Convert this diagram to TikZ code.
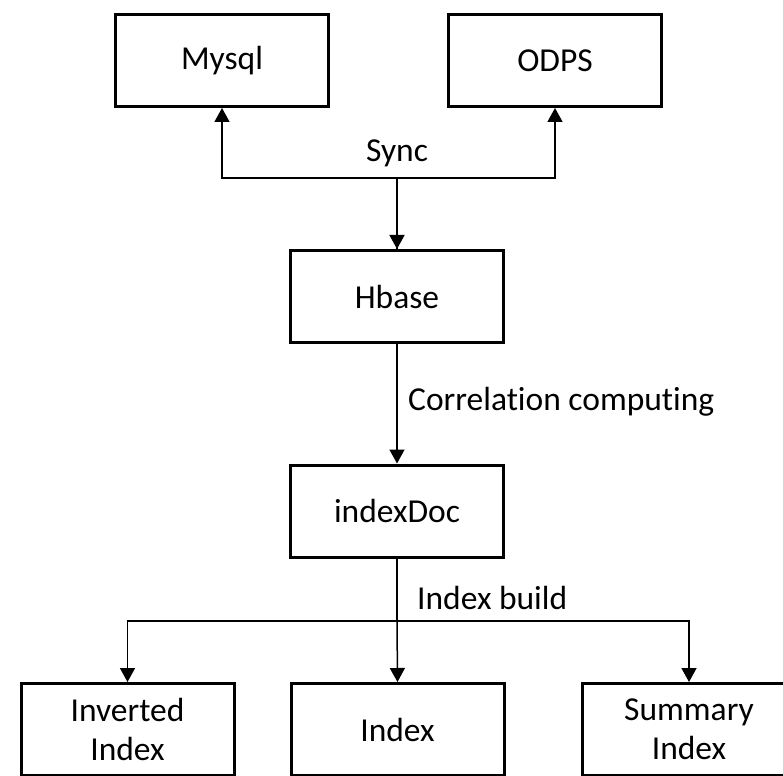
\documentclass[tikz,border=0pt]{standalone}
\usepackage{fontspec}
\setmainfont{Carlito}[Ligatures={NoCommon}]
\usetikzlibrary{arrows.meta}
\tikzset{
  box/.style={draw=black, line width=3pt, minimum width=213pt, minimum height=92pt, inner sep=0pt, align=center, font=\fontsize{33.5}{39}\selectfont},
  conn/.style={line width=1.5pt, -{Triangle[length=14pt,width=15pt]}},
  lbl/.style={font=\fontsize{33.5}{39}\selectfont, inner sep=0pt}
}
\begin{document}
\begin{tikzpicture}[x=1pt,y=-1pt]
\clip (0,0) rectangle (783,775);
\useasboundingbox (0,0) rectangle (783,775);
\node[box] (mysql) at (222,60.5) {Mysql};
\node[box] (odps) at (555,60.5) {ODPS};
\node[box] (hbase) at (397,296.5) {Hbase};
\node[box] (indexdoc) at (397,511) {indexDoc};
\node[box] (inv) at (127.5,729.5) {Inverted\\Index};
\node[box] (idx) at (397.5,729.5) {Index};
\node[box] (sum) at (689,729.5) {Summary\\Index};
\coordinate (j1) at (397,178);
\coordinate (j2) at (397,621);
\draw[line width=1.5pt] (hbase.north) -- (j1);
\draw[conn] (j1) -| (mysql.south);
\draw[conn] (j1) -| (odps.south);
\draw[conn] (j1) -- (hbase.north);
\node[lbl] (synclbl) at (397,153) {Sync};
\draw[conn] (hbase.south) -- (indexdoc.north);
\node[lbl, anchor=west] (corrlbl) at (408,402) {Correlation computing};
\draw[line width=1.5pt] (indexdoc.south) -- (j2);
\draw[conn] (j2) -- (idx.north);
\draw[conn] (j2) -| (inv.north);
\draw[conn] (j2) -| (sum.north);
\node[lbl, anchor=west] (buildlbl) at (417,598) {Index build};
\end{tikzpicture}
\end{document}
